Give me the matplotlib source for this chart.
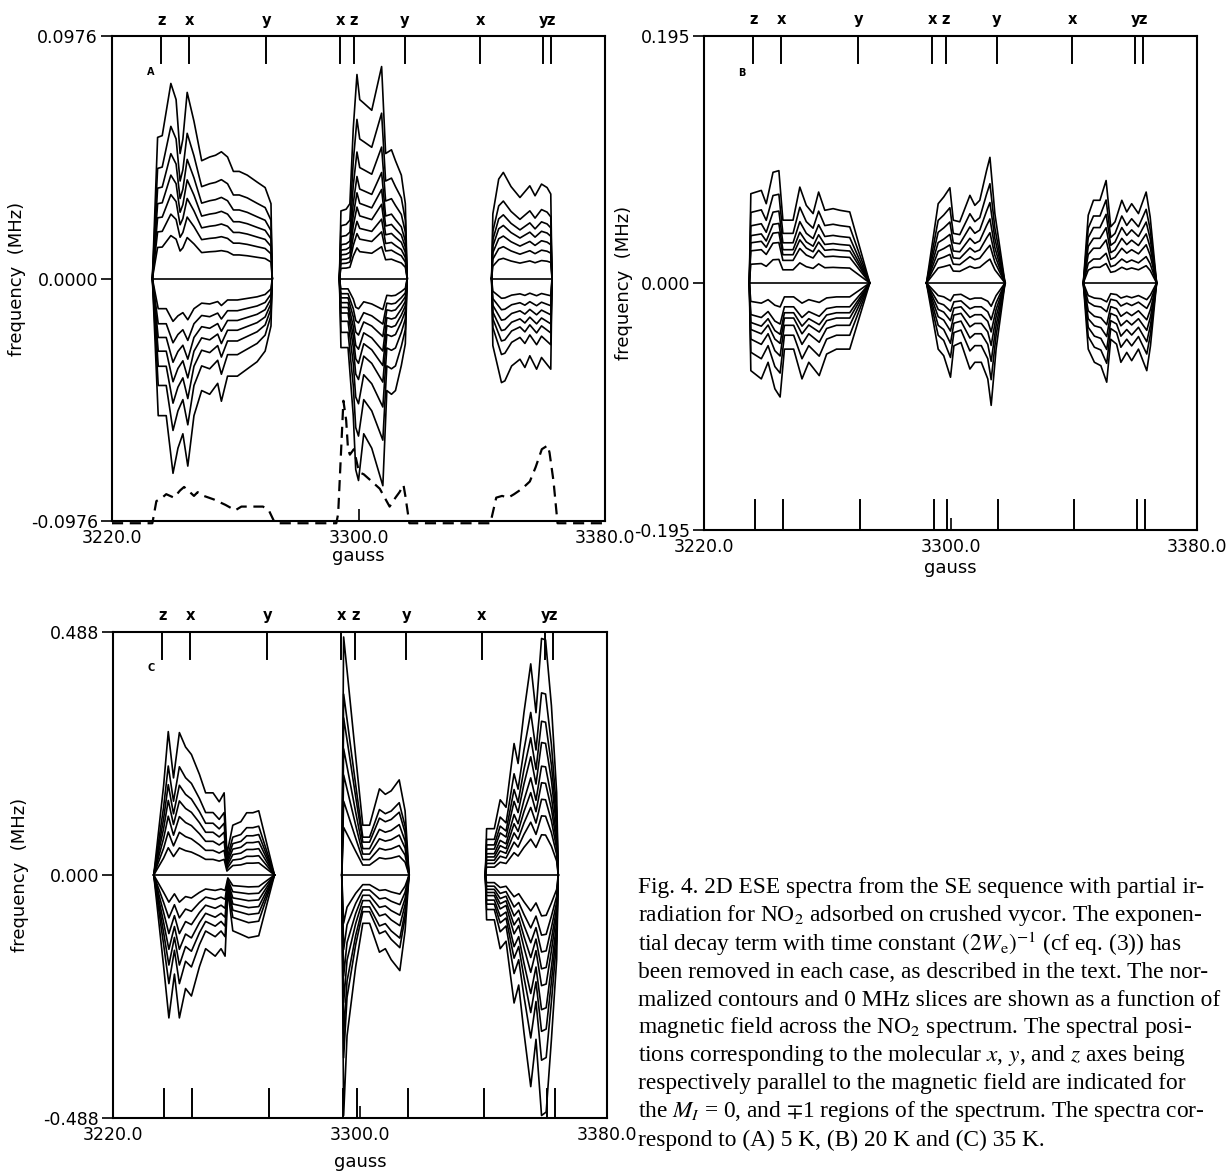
import matplotlib
matplotlib.use("Agg")
import matplotlib.pyplot as plt

plt.rcParams['font.family'] = ['DejaVu Sans']
plt.rcParams['mathtext.fontset'] = 'stix'

# ---------------- data ----------------
field_ticks = [3220.0, 3300.0, 3380.0]
field_tick_labels = ['3220.0', '3300.0', '3380.0']
axis_pos = [3236.0, 3245.0, 3270.0, 3294.0, 3298.5, 3315.0, 3339.5, 3360.0, 3362.5]
axis_lab = ['z', 'x', 'y', 'x', 'z', 'y', 'x', 'y', 'z']

vmax_A, vmax_B, vmax_C = 0.0976, 0.195, 0.488
ylab_A = ['-0.0976', '0.0000', '0.0976']
ylab_B = ['-0.195', '0.000', '0.195']
ylab_C = ['-0.488', '0.000', '0.488']

# ---- panel A (5 K) ----
A1_span = (3233.1, 3272.0)
A1_up_x = [3234.8, 3236.3, 3239.1, 3240.8, 3242.1, 3243.0, 3244.4, 3246.6, 3249.1, 3251.7,
           3253.6, 3255.5, 3257.5, 3259.4, 3261.3, 3263.9, 3267.1, 3269.7, 3271.6]
A1_up = [0.0568, 0.0575, 0.0785, 0.0720, 0.0503, 0.0561, 0.0749, 0.0633, 0.0474, 0.0489,
         0.0496, 0.0510, 0.0489, 0.0431, 0.0431, 0.0416, 0.0388, 0.0366, 0.0301]
A1_lo_x = [3235.0, 3237.6, 3239.8, 3241.4, 3243.0, 3244.6, 3246.6, 3249.1, 3251.7, 3254.3,
           3255.5, 3257.5, 3260.7, 3263.9, 3267.1, 3269.7, 3271.6]
A1_lo = [-0.0552, -0.0552, -0.0784, -0.0683, -0.0625, -0.0755, -0.0552, -0.0451, -0.0466, -0.0422,
         -0.0494, -0.0393, -0.0393, -0.0364, -0.0335, -0.0292, -0.0191]
A1_levels = [0.22, 0.33, 0.43, 0.53, 0.64, 0.78, 1.0]

A2_span = (3293.8, 3315.8)
A2_up_x = [3294.3, 3296.0, 3297.2, 3298.3, 3299.5, 3300.4, 3301.7, 3304.3, 3307.5, 3308.8,
           3310.7, 3312.0, 3313.9, 3315.2]
A2_up = [0.0272, 0.0279, 0.0301, 0.0604, 0.0821, 0.0720, 0.0706, 0.0677, 0.0853, 0.0503,
         0.0518, 0.0474, 0.0416, 0.0301]
A2_lo_x = [3294.3, 3296.6, 3298.3, 3299.1, 3300.0, 3301.7, 3304.3, 3307.9, 3309.2, 3310.7,
           3312.0, 3313.9, 3315.2]
A2_lo = [-0.0278, -0.0278, -0.0552, -0.0769, -0.0813, -0.0625, -0.0683, -0.0834, -0.0451, -0.0466,
         -0.0451, -0.0350, -0.0263]
A2_levels = [0.15, 0.22, 0.28, 0.35, 0.42, 0.50, 0.62, 0.78, 1.0]

A3_span = (3343.2, 3362.8)
A3_up_x = [3343.6, 3345.5, 3347.0, 3349.5, 3352.4, 3355.6, 3357.3, 3359.4, 3361.2, 3362.4]
A3_up = [0.026, 0.040, 0.0427, 0.037, 0.0326, 0.0373, 0.0333, 0.038, 0.0366, 0.034]
A3_lo_x = [3343.6, 3346.4, 3347.5, 3349.7, 3352.4, 3354.0, 3355.6, 3357.8, 3359.4, 3362.4]
A3_lo = [-0.027, -0.0419, -0.0412, -0.0352, -0.0325, -0.0358, -0.0311, -0.0365, -0.0318, -0.0365]
A3_levels = [0.19, 0.30, 0.40, 0.50, 0.60, 0.73, 1.0]

# 0 MHz slice (dashed) in panel A
slice_x = [3220.0, 3233.1, 3234.4, 3236.3, 3237.6, 3240.1, 3242.1, 3243.4, 3245.3, 3246.6,
           3247.8, 3249.8, 3253.0, 3256.8, 3260.0, 3262.0, 3265.8, 3269.0, 3270.9, 3272.9,
           3292.8, 3293.4, 3295.1, 3296.0, 3296.6, 3297.2, 3298.5, 3299.8, 3300.4, 3301.7,
           3303.7, 3306.9, 3310.1, 3312.0, 3313.3, 3314.6, 3315.2, 3316.5, 3342.8, 3344.7,
           3346.6, 3348.6, 3350.5, 3353.1, 3355.6, 3357.5, 3359.5, 3361.4, 3362.0, 3363.3,
           3364.6, 3380.0]
slice_y = [-0.0985, -0.0985, -0.0896, -0.0882, -0.0868, -0.0882, -0.0853, -0.0839, -0.0860, -0.0875,
           -0.0860, -0.0875, -0.0889, -0.0911, -0.0933, -0.0918, -0.0918, -0.0918, -0.0933, -0.0985,
           -0.0985, -0.0947, -0.0492, -0.0571, -0.0687, -0.0709, -0.0687, -0.0759, -0.0781, -0.0788,
           -0.0810, -0.0846, -0.0918, -0.0882, -0.0860, -0.0831, -0.0875, -0.0985, -0.0985, -0.0882,
           -0.0875, -0.0882, -0.0868, -0.0846, -0.0817, -0.0759, -0.0687, -0.0672, -0.0701, -0.0817,
           -0.0985, -0.0985]

# ---- panel B (20 K) ----
B1_span = (3234.7, 3273.8)
B1_up_x = [3235.2, 3238.6, 3240.2, 3242.4, 3244.3, 3245.6, 3248.9, 3251.1, 3253.2, 3255.4,
           3257.2, 3259.2, 3261.9, 3264.1, 3267.3]
B1_up = [0.0705, 0.0731, 0.0626, 0.0874, 0.0887, 0.0496, 0.0496, 0.0757, 0.0613, 0.0548,
         0.0718, 0.0574, 0.0587, 0.0574, 0.0561]
B1_lo_x = [3235.2, 3238.6, 3240.8, 3243.0, 3244.7, 3246.1, 3249.1, 3251.8, 3254.0, 3257.4,
           3259.8, 3263.0, 3267.3]
B1_lo = [-0.0692, -0.0757, -0.0626, -0.0835, -0.0900, -0.0522, -0.0522, -0.0757, -0.0626, -0.0731,
         -0.0561, -0.0522, -0.0522]
B1_levels = [0.21, 0.36, 0.45, 0.53, 0.64, 0.79, 1.0]

B2_span = (3292.2, 3317.7)
B2_up_x = [3296.0, 3297.8, 3299.8, 3300.9, 3303.0, 3306.3, 3307.9, 3309.5, 3311.7, 3312.8, 3314.4]
B2_up = [0.0626, 0.0679, 0.0752, 0.0496, 0.0483, 0.0692, 0.0613, 0.0653, 0.0887, 0.0992, 0.0548]
B2_lo_x = [3296.0, 3297.8, 3300.0, 3301.1, 3303.4, 3306.3, 3307.9, 3310.0, 3312.1, 3313.2, 3314.8]
B2_lo = [-0.0522, -0.0574, -0.0744, -0.0496, -0.0470, -0.0679, -0.0626, -0.0626, -0.0757, -0.0966, -0.0522]
B2_levels = [0.19, 0.30, 0.40, 0.51, 0.64, 0.79, 1.0]

B3_span = (3343.1, 3366.9)
B3_up_x = [3344.7, 3346.4, 3348.5, 3350.5, 3352.0, 3353.4, 3355.6, 3357.2, 3358.8, 3361.0, 3363.5, 3364.8]
B3_up = [0.0535, 0.0653, 0.0653, 0.0809, 0.0444, 0.0483, 0.0653, 0.0561, 0.0626, 0.0548, 0.0718, 0.0522]
B3_lo_x = [3344.7, 3346.7, 3348.8, 3350.7, 3352.0, 3353.9, 3355.3, 3357.2, 3358.8, 3361.0, 3363.7, 3364.9]
B3_lo = [-0.0522, -0.0626, -0.0653, -0.0783, -0.0444, -0.0483, -0.0626, -0.0548, -0.0613, -0.0522, -0.0692, -0.0496]
B3_levels = [0.19, 0.29, 0.42, 0.54, 0.67, 0.81, 1.0]

# ---- panel C (35 K) ----
C1_span = (3233.2, 3272.3)
C1_up_x = [3236.4, 3237.9, 3239.6, 3241.5, 3243.5, 3245.4, 3248.0, 3250.0, 3252.4, 3254.4,
           3256.0, 3256.9, 3258.8, 3261.4, 3263.3, 3265.3, 3267.2]
C1_up = [0.180, 0.288, 0.195, 0.286, 0.257, 0.242, 0.202, 0.165, 0.165, 0.147,
         0.165, 0.042, 0.100, 0.107, 0.125, 0.125, 0.129]
C1_lo_x = [3236.4, 3238.1, 3239.9, 3241.5, 3243.5, 3245.4, 3248.0, 3250.0, 3253.1, 3255.0,
           3256.3, 3257.2, 3258.8, 3261.4, 3263.9, 3267.2]
C1_lo = [-0.184, -0.287, -0.199, -0.287, -0.228, -0.243, -0.184, -0.148, -0.163, -0.148,
         -0.163, -0.031, -0.112, -0.119, -0.126, -0.122]
C1_levels = [0.19, 0.30, 0.41, 0.52, 0.63, 0.76, 1.0]

C2_span = (3294.1, 3315.9)
C2_up_x = [3294.7, 3296.0, 3298.6, 3300.9, 3303.1, 3306.3, 3308.2, 3310.1, 3312.7, 3314.6]
C2_up = [0.478, 0.399, 0.238, 0.100, 0.100, 0.173, 0.162, 0.169, 0.191, 0.129]
C2_lo_x = [3294.7, 3295.8, 3298.6, 3300.9, 3303.1, 3306.3, 3308.2, 3310.1, 3312.9, 3314.6]
C2_lo = [-0.483, -0.323, -0.184, -0.097, -0.097, -0.155, -0.148, -0.170, -0.192, -0.112]
C2_levels = [0.20, 0.31, 0.42, 0.53, 0.66, 0.76, 1.0]

C3_span = (3340.6, 3364.2)
C3_up_x = [3341.0, 3343.5, 3345.4, 3347.3, 3349.9, 3351.2, 3353.1, 3355.3, 3357.0, 3358.8,
           3360.1, 3362.0, 3363.7]
C3_up = [0.093, 0.093, 0.151, 0.136, 0.264, 0.224, 0.326, 0.424, 0.326, 0.475,
         0.472, 0.340, 0.165]
C3_lo_x = [3341.0, 3343.5, 3345.4, 3347.3, 3349.9, 3351.4, 3353.1, 3355.3, 3357.0, 3358.8,
           3360.3, 3362.0, 3363.7]
C3_lo = [-0.090, -0.090, -0.148, -0.133, -0.257, -0.221, -0.316, -0.425, -0.330, -0.483,
         -0.476, -0.330, -0.170]
C3_levels = [0.17, 0.25, 0.32, 0.39, 0.46, 0.56, 0.65, 0.77, 1.0]

caption_lines = [
    "Fig. 4. 2D ESE spectra from the SE sequence with partial ir-",
    "radiation for NO$_2$ adsorbed on crushed vycor. The exponen-",
    "tial decay term with time constant $(2W_{\\mathrm{e}})^{-1}$ (cf eq. (3)) has",
    "been removed in each case, as described in the text. The nor-",
    "malized contours and 0 MHz slices are shown as a function of",
    "magnetic field across the NO$_2$ spectrum. The spectral posi-",
    "tions corresponding to the molecular $x$, $y$, and $z$ axes being",
    "respectively parallel to the magnetic field are indicated for",
    "the $M_I$ = 0, and $\\mp$1 regions of the spectrum. The spectra cor-",
    "respond to (A) 5 K, (B) 20 K and (C) 35 K.",
]

# ---------------- drawing ----------------
W, H = 1227, 1174
fig = plt.figure(figsize=(W / 100, H / 100), dpi=100)
LW = 1.2


def px_axes(l, t, r, b):
    return fig.add_axes([l / W, 1 - b / H, (r - l) / W, (b - t) / H])


def draw_group(ax, span, ux, uy, lx, ly, levels):
    x0, x1 = span
    for lv in levels:
        ax.plot([x0] + ux + [x1], [0] + [lv * v for v in uy] + [0], color='black', lw=LW)
        ax.plot([x0] + lx + [x1], [0] + [lv * v for v in ly] + [0], color='black', lw=LW)
    ax.plot([x0, x1], [0, 0], color='black', lw=LW)


def setup(ax, vmax, ylabels, letter, bottom_marks, ylab_x, xlab_pad):
    ax.set_xlim(3220, 3380)
    ax.set_ylim(-vmax, vmax)
    ax.set_xticks(field_ticks)
    ax.set_xticklabels(field_tick_labels)
    ax.set_yticks([-vmax, 0, vmax])
    ax.set_yticklabels(ylabels)
    ax.tick_params(axis='x', direction='in', length=9, width=1.2, labelsize=12.5, pad=6)
    ax.tick_params(axis='y', direction='out', length=8, width=1.2, labelsize=12.5, pad=2)
    for s in ax.spines.values():
        s.set_linewidth(1.5)
    ax.set_xlabel('gauss', fontsize=13, labelpad=xlab_pad)
    ax.set_ylabel('frequency  (MHz)', fontsize=13)
    ax.yaxis.set_label_coords(ylab_x, 0.5)
    for p, lab in zip(axis_pos, axis_lab):
        ax.plot([p, p], [vmax, vmax * 0.89], color='black', lw=1.4)
        ax.text(p, vmax * 1.035, lab, ha='center', va='bottom', fontsize=10.5, fontweight='bold')
        if bottom_marks:
            ax.plot([p + 0.5, p + 0.5], [-vmax, -vmax * 0.88], color='black', lw=1.4)
    ax.text(0.07, 0.92, letter, transform=ax.transAxes, fontsize=7, fontweight='bold')


axA = px_axes(112, 36, 605, 521)
setup(axA, vmax_A, ylab_A, 'A', False, -0.175, 0)
draw_group(axA, A1_span, A1_up_x, A1_up, A1_lo_x, A1_lo, A1_levels)
draw_group(axA, A2_span, A2_up_x, A2_up, A2_lo_x, A2_lo, A2_levels)
draw_group(axA, A3_span, A3_up_x, A3_up, A3_lo_x, A3_lo, A3_levels)
axA.plot(slice_x, slice_y, color='black', lw=1.6, dashes=(5, 3), clip_on=False)

axB = px_axes(704, 36, 1197, 530)
setup(axB, vmax_B, ylab_B, 'B', True, -0.145, 2)
draw_group(axB, B1_span, B1_up_x, B1_up, B1_lo_x, B1_lo, B1_levels)
draw_group(axB, B2_span, B2_up_x, B2_up, B2_lo_x, B2_lo, B2_levels)
draw_group(axB, B3_span, B3_up_x, B3_up, B3_lo_x, B3_lo, B3_levels)

axC = px_axes(113, 632, 607, 1118)
setup(axC, vmax_C, ylab_C, 'C', True, -0.17, 6)
draw_group(axC, C1_span, C1_up_x, C1_up, C1_lo_x, C1_lo, C1_levels)
draw_group(axC, C2_span, C2_up_x, C2_up, C2_lo_x, C2_lo, C2_levels)
draw_group(axC, C3_span, C3_up_x, C3_up, C3_lo_x, C3_lo, C3_levels)

y0 = 888
for i, line in enumerate(caption_lines):
    fig.text(638 / W, 1 - (y0 + i * 28) / H, line, ha='left', va='center',
             fontsize=16.8, family=['Liberation Serif', 'DejaVu Serif'])

fig.savefig('out.png', dpi=100)
